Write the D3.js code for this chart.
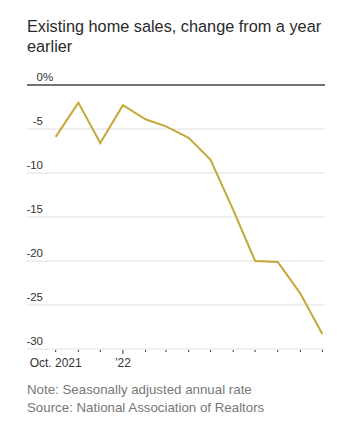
<!DOCTYPE html>
<html><head><meta charset="utf-8">
<script src="https://cdn.jsdelivr.net/npm/d3@7"></script>
<style>
body{margin:0;background:#fff;}
svg{display:block;}
</style></head>
<body>
<svg id="c" width="337" height="426"></svg>
<script>
const months = ["2021-10","2021-11","2021-12","2022-01","2022-02","2022-03","2022-04","2022-05","2022-06","2022-07","2022-08","2022-09","2022-10"];
const values = [-5.9,-2.0,-6.6,-2.3,-3.9,-4.7,-6.0,-8.5,-14.2,-20.0,-20.1,-23.7,-28.3];
const yTicks = [0,-5,-10,-15,-20,-25,-30];
const xLabels = [{m:"2021-10",t:"Oct. 2021"},{m:"2022-01",t:"\u201922"}];

const svg = d3.select("#c");
const font = "'Liberation Sans', Arial, sans-serif";
const parse = d3.timeParse("%Y-%m");
const data = months.map((m,i)=>({d:parse(m),v:values[i]}));

const left=27, right=325, plotL=55.7, plotR=322.3;
const x = d3.scaleTime().domain(d3.extent(data,d=>d.d)).range([plotL,plotR]);
const y = d3.scaleLinear().domain([0,-30]).range([85,349]);

svg.append("text").attr("x",27).attr("y",32).attr("font-family",font).attr("font-size",16.3).attr("fill","#2a2a2a").text("Existing home sales, change from a year");
svg.append("text").attr("x",27).attr("y",52).attr("font-family",font).attr("font-size",16.3).attr("fill","#2a2a2a").text("earlier");

const g = svg.append("g");
yTicks.forEach(t=>{
  g.append("line").attr("x1",left).attr("x2",right).attr("y1",y(t)).attr("y2",y(t))
   .attr("stroke", t===0?"#444":"#e0e0e0").attr("stroke-width", t===0?1.3:1);
  g.append("text").attr("x",43).attr("y",y(t)-4).attr("font-family",font)
   .attr("font-size",11.5).attr("fill","#333").attr("text-anchor","end").text(t===0?"0":String(t));
  if(t===0){
    g.append("text").attr("x",43).attr("y",y(t)-4).attr("font-family",font).attr("font-size",11.5).attr("fill","#333").text("%");
  }
});

const xa = svg.append("g");
data.forEach(d=>{
  const major = d.d.getMonth()===0;
  xa.append("line").attr("x1",x(d.d)).attr("x2",x(d.d)).attr("y1",y(-30)+1).attr("y2",y(-30)+(major?5:3))
    .attr("stroke","#333").attr("stroke-width",1);
});
xLabels.forEach(l=>{
  xa.append("text").attr("x",x(parse(l.m))).attr("y",367).attr("text-anchor","middle")
    .attr("font-family",font).attr("font-size",12).attr("fill","#333").text(l.t);
});

const line = d3.line().x(d=>x(d.d)).y(d=>y(d.v));
svg.append("path").datum(data).attr("d",line).attr("fill","none").attr("stroke","#c4a83a").attr("stroke-width",2).attr("stroke-linejoin","miter");

svg.append("text").attr("x",27).attr("y",394).attr("font-family",font).attr("font-size",13.3).attr("fill","#777").text("Note: Seasonally adjusted annual rate");
svg.append("text").attr("x",27).attr("y",412).attr("font-family",font).attr("font-size",13.3).attr("fill","#777").text("Source: National Association of Realtors");
</script>
</body></html>
